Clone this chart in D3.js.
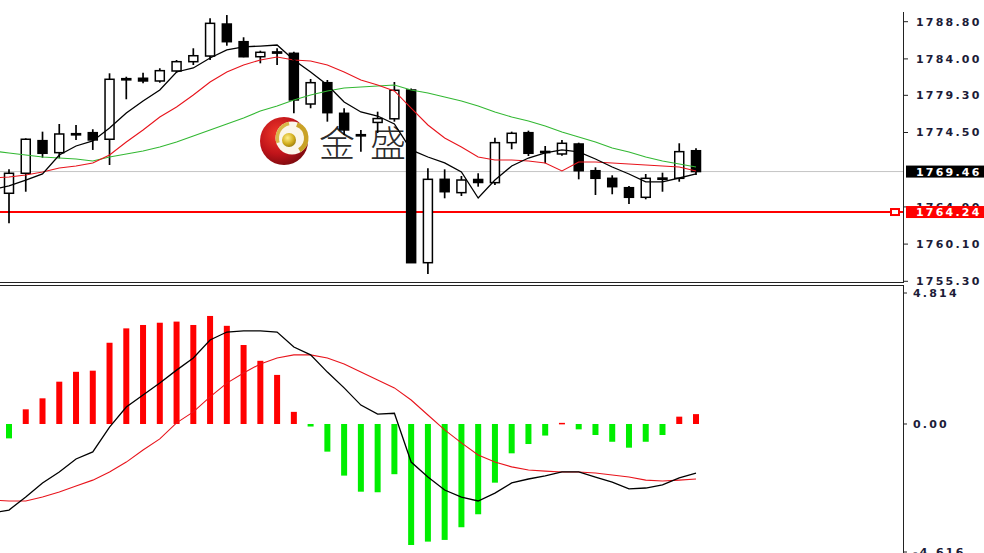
<!DOCTYPE html>
<html><head><meta charset="utf-8">
<script src="https://cdn.jsdelivr.net/npm/d3@7"></script>
<style>html,body{margin:0;padding:0;background:#fff;overflow:hidden}</style>
</head><body><svg id="c" width="984" height="553"></svg>
<script>
// ---- candles (one per bar, left to right) ----
const open  = [1766.66,1769.24,1773.45,1771.90,1774.25,1774.48,1773.63,1781.38,1781.50,1781.15,1782.44,1783.64,1784.37,1788.50,1786.22,1784.28,1784.90,1784.72,1778.18,1780.93,1776.98,1774.15,1775.80,1776.27,1779.99,1757.70,1768.46,1766.74,1768.44,1768.03,1773.19,1774.48,1772.00,1771.73,1773.02,1769.57,1768.59,1767.38,1766.14,1768.56,1768.59,1772.15];
const high  = [1769.75,1773.75,1774.61,1775.60,1775.47,1774.92,1782.14,1781.70,1782.22,1782.79,1783.86,1785.37,1789.24,1789.66,1786.79,1785.06,1785.37,1784.93,1781.41,1781.28,1777.63,1774.83,1777.19,1781.02,1780.18,1769.88,1769.75,1768.89,1769.24,1773.83,1774.61,1774.74,1772.76,1773.54,1773.19,1770.01,1768.98,1767.60,1769.15,1769.32,1773.11,1772.46];
const low   = [1762.79,1766.86,1771.25,1771.17,1773.54,1772.25,1770.31,1778.79,1780.85,1780.93,1782.22,1783.21,1783.86,1785.70,1784.21,1783.43,1783.21,1776.98,1777.63,1775.90,1774.18,1772.03,1774.44,1775.90,1757.66,1756.25,1766.01,1766.31,1767.51,1767.73,1772.34,1771.47,1770.53,1771.51,1768.46,1766.44,1766.53,1765.28,1765.88,1766.86,1768.15,1769.02];
const close = [1769.24,1773.63,1771.82,1774.31,1774.35,1773.54,1781.37,1781.45,1781.15,1782.48,1783.64,1784.41,1788.59,1786.22,1784.28,1784.85,1784.80,1778.70,1780.93,1777.06,1774.83,1774.22,1776.30,1779.95,1757.70,1768.46,1766.86,1768.37,1768.05,1773.19,1774.40,1771.82,1772.06,1773.11,1769.57,1768.59,1767.51,1766.14,1768.59,1768.62,1772.03,1769.46];
// moving averages: first value belongs to the bar just before the first visible candle
const maBlack = [1767.15,1767.60,1768.37,1769.15,1771.60,1772.76,1773.41,1775.08,1777.02,1778.57,1779.99,1782.31,1782.83,1784.12,1785.15,1785.54,1785.66,1785.79,1783.86,1782.31,1780.63,1778.44,1777.15,1776.63,1775.60,1772.25,1771.34,1770.57,1769.41,1766.05,1768.37,1770.18,1771.21,1771.86,1772.25,1771.99,1771.08,1770.05,1769.15,1768.12,1768.12,1768.63,1769.15];
const maRed   = [1768.63,1768.76,1769.02,1769.41,1769.92,1770.18,1770.57,1771.60,1773.28,1774.83,1776.50,1777.79,1779.34,1781.02,1782.31,1783.21,1783.86,1784.25,1783.86,1783.73,1783.21,1782.31,1781.28,1780.63,1779.86,1777.66,1775.47,1773.79,1772.63,1771.34,1770.95,1770.95,1770.83,1770.57,1769.54,1770.70,1770.70,1770.57,1770.44,1770.31,1770.18,1770.05,1769.54];
const maGreen = [1772.12,1771.86,1771.60,1771.34,1771.21,1771.08,1770.83,1771.34,1771.73,1772.12,1772.63,1773.28,1774.05,1774.83,1775.60,1776.37,1777.28,1777.92,1778.70,1779.34,1779.86,1780.25,1780.37,1780.50,1780.63,1779.99,1779.60,1779.08,1778.57,1777.92,1777.15,1776.50,1775.99,1775.34,1774.57,1773.92,1773.28,1772.50,1771.99,1771.34,1770.83,1770.44,1770.05];
// MACD panel
const macdHist   = [-0.51,0.52,0.91,1.50,1.85,1.89,2.88,3.39,3.51,3.59,3.63,3.51,3.83,3.48,2.80,2.24,1.74,0.43,-0.09,-0.98,-1.83,-2.40,-2.42,-1.78,-4.29,-4.17,-4.11,-3.66,-3.20,-2.08,-1.04,-0.71,-0.41,0.04,-0.19,-0.39,-0.63,-0.84,-0.63,-0.39,0.26,0.35];
const macdMain   = [-3.16,-3.05,-2.59,-2.09,-1.70,-1.24,-0.99,-0.11,0.60,1.03,1.45,1.91,2.34,2.98,3.26,3.30,3.30,3.26,2.73,2.45,1.84,1.28,0.67,0.35,0.38,-1.35,-1.88,-2.34,-2.59,-2.73,-2.45,-2.09,-1.95,-1.84,-1.70,-1.70,-1.88,-2.06,-2.30,-2.27,-2.16,-1.91,-1.74];
const macdSignal = [-2.70,-2.73,-2.73,-2.59,-2.41,-2.20,-1.99,-1.70,-1.35,-0.92,-0.53,0.04,0.43,0.96,1.45,1.81,2.13,2.34,2.45,2.45,2.34,2.13,1.84,1.56,1.28,0.85,0.32,-0.21,-0.67,-1.10,-1.35,-1.52,-1.63,-1.67,-1.70,-1.70,-1.74,-1.81,-1.88,-1.99,-2.02,-1.99,-1.95];
// axis labels
const priceTicks = [1788.80,1784.00,1779.30,1774.50,1764.90,1760.10,1755.30];
const macdTicks = [4.814, 0, -4.616];
const macdTickLabels = ["4.814","0.00","-4.616"];
const lastPrice = 1769.46;
const linePrice = 1764.24;
const logoText = ["金","盛"];

const svg = d3.select("#c");
const W = 984, axisX = 903;
const x = d3.scaleLinear().domain([0, 41]).range([9, 696]);
const yP = d3.scaleLinear().domain([1755.3, 1788.8]).range([281.3, 21.7]);
const yM = d3.scaleLinear().domain([-4.616, 4.814]).range([554.2, 288.2]);

const defs = svg.append("defs");
defs.append("clipPath").attr("id","cpU").append("rect").attr("x",0).attr("y",0).attr("width",axisX).attr("height",283);
defs.append("clipPath").attr("id","cpL").append("rect").attr("x",0).attr("y",286).attr("width",axisX).attr("height",267);
const rg = defs.append("radialGradient").attr("id","rball").attr("cx","38%").attr("cy","35%").attr("r","70%");
rg.append("stop").attr("offset","0%").attr("stop-color","#f23a2a");
rg.append("stop").attr("offset","60%").attr("stop-color","#c0141a");
rg.append("stop").attr("offset","100%").attr("stop-color","#7a0a0e");
const gg = defs.append("radialGradient").attr("id","gball").attr("cx","40%").attr("cy","35%").attr("r","70%");
gg.append("stop").attr("offset","0%").attr("stop-color","#fff08a");
gg.append("stop").attr("offset","60%").attr("stop-color","#d4b020");
gg.append("stop").attr("offset","100%").attr("stop-color","#9a7a08");

svg.append("rect").attr("width",W).attr("height",553).attr("fill","#fff");

// ---- upper panel ----
const up = svg.append("g").attr("clip-path","url(#cpU)");
// logo watermark
const logo = up.append("g");
logo.append("circle").attr("cx",284).attr("cy",141).attr("r",24).attr("fill","url(#rball)");
logo.append("circle").attr("cx",292).attr("cy",138).attr("r",16.5).attr("fill","#fbf6ea");
logo.append("path")
  .attr("d", d3.arc().innerRadius(12).outerRadius(16.5).startAngle(0.35).endAngle(2.6)())
  .attr("transform","translate(292,138)").attr("fill","#c9a227");
logo.append("path")
  .attr("d", d3.arc().innerRadius(13).outerRadius(16.5).startAngle(-1.9).endAngle(-0.2)())
  .attr("transform","translate(292,138)").attr("fill","#d8b84a");
logo.append("circle").attr("cx",289).attr("cy",140).attr("r",7).attr("fill","url(#gball)");
logo.selectAll("text.logo").data(logoText).join("text")
  .attr("x",(d,i)=> i===0 ? 337 : 388).attr("y",157)
  .attr("text-anchor","middle")
  .attr("font-family","'Noto Sans CJK SC','Noto Sans CJK JP',sans-serif")
  .attr("font-size",36).attr("font-weight",300).attr("fill","#2b2b2b")
  .text(d=>d);

// reference lines
up.append("line").attr("x1",0).attr("x2",axisX).attr("y1",yP(lastPrice)).attr("y2",yP(lastPrice))
  .attr("stroke","#c4c4c4").attr("stroke-width",1);
up.append("line").attr("x1",0).attr("x2",axisX).attr("y1",yP(linePrice)).attr("y2",yP(linePrice))
  .attr("stroke","#ff0000").attr("stroke-width",2);
up.append("rect").attr("x",891).attr("y",yP(linePrice)-3).attr("width",8).attr("height",6)
  .attr("fill","#fff").attr("stroke","#ff0000").attr("stroke-width",2);

// candles
const idx = d3.range(open.length);
const cg = up.append("g");
cg.selectAll("line.wick").data(idx).join("line")
  .attr("x1",i=>x(i)).attr("x2",i=>x(i)).attr("y1",i=>yP(high[i])).attr("y2",i=>yP(low[i]))
  .attr("stroke","#000").attr("stroke-width",1.7);
cg.selectAll("rect.body").data(idx).join("rect")
  .attr("x",i=>x(i)-4.5).attr("width",9)
  .attr("y",i=>Math.min(yP(open[i]),yP(close[i])))
  .attr("height",i=>Math.max(1.2,Math.abs(yP(open[i])-yP(close[i]))))
  .attr("fill",i=> close[i]>=open[i] ? "#fff" : "#000")
  .attr("stroke","#000").attr("stroke-width",1.5);

// moving averages
const maLine = d3.line().x((d,j)=>x(j-1)).y(d=>yP(d));
up.append("path").attr("d",maLine(maGreen)).attr("fill","none").attr("stroke","#33b833").attr("stroke-width",1.1);
up.append("path").attr("d",maLine(maRed)).attr("fill","none").attr("stroke","#e8141c").attr("stroke-width",1.1);
up.append("path").attr("d",maLine(maBlack)).attr("fill","none").attr("stroke","#000").attr("stroke-width",1.3);

// ---- lower panel ----
const lo = svg.append("g").attr("clip-path","url(#cpL)");
lo.selectAll("rect.h").data(idx).join("rect")
  .attr("x",i=>x(i)-3).attr("width",6)
  .attr("y",i=>Math.min(yM(0),yM(macdHist[i])))
  .attr("height",i=>Math.max(1.5,Math.abs(yM(macdHist[i])-yM(0))))
  .attr("fill",i=> macdHist[i]>=0 ? "#ff0000" : "#00ee00");
const mLine = d3.line().x((d,j)=>x(j-1)).y(d=>yM(d));
lo.append("path").attr("d",mLine(macdSignal)).attr("fill","none").attr("stroke","#e8141c").attr("stroke-width",1.1);
lo.append("path").attr("d",mLine(macdMain)).attr("fill","none").attr("stroke","#000").attr("stroke-width",1.3);

// ---- frames / axes ----
svg.append("line").attr("x1",axisX+0.5).attr("x2",axisX+0.5).attr("y1",12).attr("y2",283).attr("stroke","#222").attr("stroke-width",1);
svg.append("line").attr("x1",axisX+0.5).attr("x2",axisX+0.5).attr("y1",285).attr("y2",553).attr("stroke","#222").attr("stroke-width",1);
svg.append("line").attr("x1",0).attr("x2",axisX+1).attr("y1",282.5).attr("y2",282.5).attr("stroke","#222");
svg.append("line").attr("x1",0).attr("x2",axisX+1).attr("y1",285.5).attr("y2",285.5).attr("stroke","#222");

const fontFam = "'DejaVu Sans',Verdana,sans-serif";
const ax = svg.append("g");
ax.selectAll("line.pt").data(priceTicks).join("line")
  .attr("x1",axisX).attr("x2",axisX+5).attr("y1",d=>yP(d)).attr("y2",d=>yP(d)).attr("stroke","#222");
ax.selectAll("text.pt").data(priceTicks).join("text")
  .attr("x",916).attr("y",d=>yP(d)).attr("dy","0.36em")
  .attr("font-family",fontFam).attr("font-size",11).attr("font-weight","bold")
  .attr("letter-spacing","2.2px").attr("fill","#1c1c38")
  .text(d=>d.toFixed(2));

const macdLabelY = [293, yM(0), 552];
ax.selectAll("line.mt").data(macdTicks).join("line")
  .attr("x1",axisX).attr("x2",axisX+4).attr("y1",(d,i)=>macdLabelY[i]).attr("y2",(d,i)=>macdLabelY[i]).attr("stroke","#222");
ax.selectAll("text.mt").data(macdTickLabels).join("text")
  .attr("x",913).attr("y",(d,i)=>macdLabelY[i]).attr("dy","0.36em")
  .attr("font-family",fontFam).attr("font-size",11).attr("font-weight","bold")
  .attr("letter-spacing","2.2px").attr("fill","#1c1c38")
  .text(d=>d);

// price tags
function tag(v, bg){
  const g = svg.append("g");
  g.append("rect").attr("x",906).attr("y",yP(v)-6).attr("width",78).attr("height",12).attr("fill",bg);
  g.append("text").attr("x",916).attr("y",yP(v)).attr("dy","0.36em")
    .attr("font-family",fontFam).attr("font-size",11).attr("font-weight","bold")
    .attr("letter-spacing","2.2px").attr("fill","#fff").text(v.toFixed(2));
}
tag(lastPrice, "#000");
tag(linePrice, "#ff0000");
</script>
</body></html>
